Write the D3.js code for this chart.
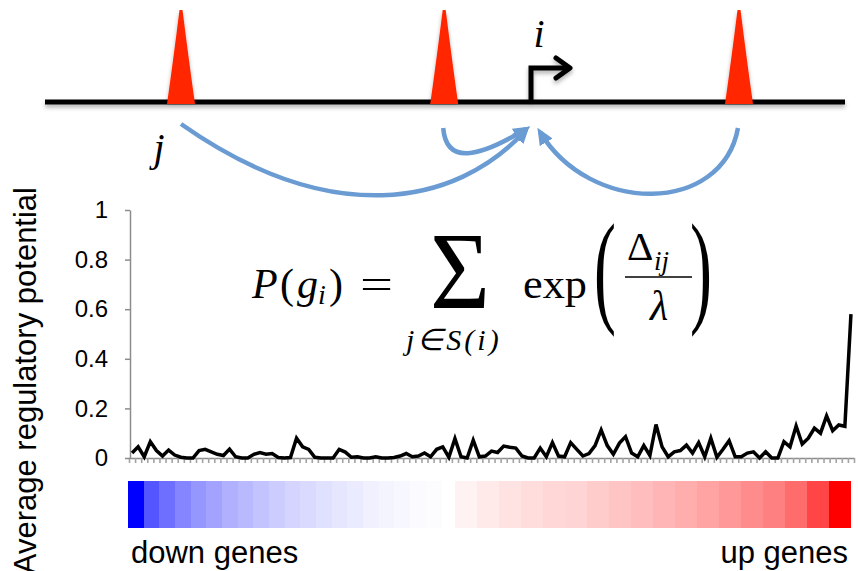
<!DOCTYPE html>
<html>
<head>
<meta charset="utf-8">
<script src="https://cdn.jsdelivr.net/npm/d3@7"></script>
<style>
  html, body { margin: 0; padding: 0; background: #fff; }
  svg { display: block; }
</style>
</head>
<body>
<svg id="fig" width="858" height="571"></svg>
<script>
// Average regulatory potential for each expression-ranked gene bin (down → up)
const potential = [
  0.02, 0.045, 0.005, 0.066, 0.03, 0.008, 0.032, 0.012, 0.003, 0,
  0, 0.03, 0.035, 0.025, 0.015, 0.01, 0.036, 0.005, 0, 0,
  0.015, 0.022, 0.015, 0.018, 0.002, 0, 0.002, 0.08, 0.045, 0.035,
  0.003, 0, 0, 0, 0.035, 0.024, 0.003, 0.005, 0, 0,
  0.005, 0, 0, 0.002, 0.008, 0.018, 0.005, 0.008, 0.02, 0.005,
  0.035, 0.045, 0.003, 0.078, 0.005, 0, 0.072, 0.005, 0.008, 0.028,
  0.022, 0.048, 0.043, 0.04, 0.008, 0, 0, 0.04, 0.005, 0.062,
  0.008, 0.005, 0.062, 0.035, 0.008, 0.018, 0.05, 0.113, 0.05, 0.015,
  0.06, 0.086, 0.02, 0.005, 0.05, 0.01, 0.135, 0.045, 0.005, 0.025,
  0.03, 0.052, 0.02, 0.062, 0.005, 0.08, 0.003, 0.035, 0.07, 0.005,
  0.005, 0.02, 0.025, 0, 0.025, 0, 0, 0.066, 0.045, 0.129,
  0.056, 0.08, 0.12, 0.1, 0.17, 0.11, 0.133, 0.128, 0.58
];
const yTicks = [0, 0.2, 0.4, 0.6, 0.8, 1];
const yTickLabels = ["0", "0.2", "0.4", "0.6", "0.8", "1"];
const axisTitle = "Average regulatory potential";

// Expression colour strip: intensity of change per bin
const downLevels = [1, 0.667, 0.565, 0.48, 0.41, 0.36, 0.31, 0.275, 0.235, 0.2,
                    0.17, 0.145, 0.12, 0.1, 0.08, 0.06, 0.045, 0.03, 0.02, 0.01];
const neutralLevels = [0];
const upLevels = [0.05, 0.085, 0.11, 0.135, 0.155, 0.17, 0.2, 0.23, 0.26, 0.29,
                  0.32, 0.36, 0.4, 0.45, 0.5, 0.575, 0.73, 1];
const stripLabels = ["down genes", "up genes"];

// Schematic locus (kb): binding peaks and the gene's TSS
const locusKb = [0, 100];
const peakKb = [17, 49.9, 86.75];
const tssKb = 60.75;

const sans = "'Liberation Sans', Arial, Helvetica, sans-serif";
const serif = "'Liberation Serif', 'Times New Roman', serif";
const blue = "#6a9bd2";

const svg = d3.select("#fig");
const defs = svg.append("defs");

const shadow = defs.append("filter").attr("id", "soft-shadow")
  .attr("filterUnits", "userSpaceOnUse")
  .attr("x", 0).attr("y", 0).attr("width", 858).attr("height", 130);
shadow.append("feDropShadow").attr("dx", 0).attr("dy", 3).attr("stdDeviation", 2)
  .attr("flood-color", "#000").attr("flood-opacity", 0.3);

defs.append("marker").attr("id", "blue-head")
  .attr("viewBox", "0 -8 18 16").attr("markerUnits", "userSpaceOnUse")
  .attr("markerWidth", 18).attr("markerHeight", 16)
  .attr("refX", 12).attr("refY", 0).attr("orient", "auto")
  .append("path").attr("d", "M0,-7.5L17,0L0,7.5Z").attr("fill", blue);

// ---------- locus schematic ----------
const gx = d3.scaleLinear().domain(locusKb).range([45, 845]);
const locus = svg.append("g");
const lineY = 102;

const shadowed = locus.append("g").attr("filter", "url(#soft-shadow)");
shadowed.append("line")
  .attr("x1", gx(locusKb[0])).attr("x2", gx(locusKb[1]))
  .attr("y1", lineY).attr("y2", lineY)
  .attr("stroke", "#000").attr("stroke-width", 5);

shadowed.selectAll("path.peak").data(peakKb).join("path")
  .attr("class", "peak")
  .attr("d", d => {
    const c = gx(d);
    return `M${c - 14},${lineY + 2} Q${c - 8},${lineY - 40} ${c - 1.5},10 L${c + 1.5},10 Q${c + 8},${lineY - 40} ${c + 14},${lineY + 2} Z`;
  })
  .attr("fill", "#ff2500");

const tx = gx(tssKb);
shadowed.append("path")
  .attr("d", `M${tx},${lineY} V68 H${tx + 38}`)
  .attr("fill", "none").attr("stroke", "#000").attr("stroke-width", 5);
shadowed.append("path")
  .attr("d", `M${tx + 25},58 L${tx + 39},68 L${tx + 25},78`)
  .attr("fill", "none").attr("stroke", "#000").attr("stroke-width", 5)
  .attr("stroke-linejoin", "round").attr("stroke-linecap", "round");

locus.append("text").attr("x", tx + 8).attr("y", 47)
  .attr("text-anchor", "middle")
  .style("font-family", serif).style("font-style", "italic").style("font-size", "40px")
  .text("i");
locus.append("text").attr("x", gx(peakKb[0]) - 22).attr("y", 161)
  .attr("text-anchor", "middle")
  .style("font-family", serif).style("font-style", "italic").style("font-size", "40px")
  .text("j");

// regulatory contributions from each peak towards the TSS
const p0 = gx(peakKb[0]), p1 = gx(peakKb[1]), p2 = gx(peakKb[2]);
const links = [
  `M${p0},124 C${p0 + 148},228 ${tx - 76},208 ${tx - 5},130`,
  `M${p1 - 1},128 C${p1 + 2},165 ${p1 + 34},158 ${tx - 5},129`,
  `M${p2 - 1},128 C${p2 - 17},215 ${tx + 59},215 ${tx + 9},132`
];
locus.selectAll("path.link").data(links).join("path")
  .attr("class", "link")
  .attr("d", d => d)
  .attr("fill", "none").attr("stroke", blue).attr("stroke-width", 4.5)
  .attr("marker-end", "url(#blue-head)");

// ---------- regulatory potential profile ----------
const x = d3.scaleLinear().domain([-0.5, potential.length - 0.5]).range([129, 854]);
const y = d3.scaleLinear().domain([0, 1]).range([458, 210]);

const xAxis = svg.append("g").attr("transform", `translate(0,${y(0)})`)
  .call(d3.axisBottom(x)
    .tickValues(d3.range(potential.length + 1).map(i => i - 0.5))
    .tickSize(5).tickSizeOuter(0).tickFormat(""));
xAxis.select(".domain").attr("stroke", "#8c8c8c").attr("stroke-width", 1.5);
xAxis.selectAll(".tick line").attr("stroke", "#a3a3a3").attr("stroke-width", 1.6);

const yAxis = svg.append("g").attr("transform", "translate(130,0)")
  .call(d3.axisLeft(y).tickValues(yTicks)
    .tickFormat((d, i) => yTickLabels[i])
    .tickSize(5).tickSizeOuter(0).tickPadding(17));
yAxis.select(".domain").attr("stroke", "#8c8c8c").attr("stroke-width", 1.5);
yAxis.selectAll(".tick line").attr("stroke", "#8c8c8c").attr("stroke-width", 1.5);
yAxis.selectAll(".tick text")
  .style("font-family", sans).style("font-size", "24px").attr("fill", "#000");

svg.append("text")
  .attr("transform", "translate(36,187) rotate(-90)")
  .attr("text-anchor", "end")
  .style("font-family", sans).style("font-size", "31px").attr("fill", "#000")
  .text(axisTitle);

svg.append("path").datum(potential)
  .attr("d", d3.line().x((d, i) => x(i)).y(d => y(d)))
  .attr("fill", "none").attr("stroke", "#000").attr("stroke-width", 3.5)
  .attr("stroke-linejoin", "miter");

// ---------- formula ----------
const f = svg.append("g").style("font-family", serif).attr("fill", "#000");
const tok = (txt, xx, yy, size, italic) =>
  f.append("text").attr("x", xx).attr("y", yy)
    .style("font-size", size + "px").style("font-style", italic ? "italic" : "normal")
    .text(txt);

tok("P", 252, 298, 42, true);
tok("(", 280, 298, 42, false);
tok("g", 297, 298, 42, true);
tok("i", 318, 304, 28, true);
tok(")", 329, 298, 42, false);
tok("=", 360, 298, 42, false).attr("textLength", 33).attr("lengthAdjust", "spacingAndGlyphs");
tok("Σ", 430, 308, 110, false).attr("textLength", 60).attr("lengthAdjust", "spacingAndGlyphs");

// summation range under the sigma
tok("j∈S(i)", 406, 350, 30, true).style("letter-spacing", "3px");

tok("exp", 523, 298, 42, false).attr("textLength", 64).attr("lengthAdjust", "spacingAndGlyphs");

f.append("text").attr("transform", "translate(594,310) scale(1,1.9)")
  .style("font-size", "66px").text("(");
f.append("text").attr("transform", "translate(690,310) scale(1,1.9)")
  .style("font-size", "66px").text(")");

tok("Δ", 627, 260, 41, false);
tok("ij", 654, 270, 27, true);
f.append("line").attr("x1", 625).attr("x2", 692).attr("y1", 277).attr("y2", 277)
  .attr("stroke", "#000").attr("stroke-width", 1.6);
tok("λ", 659, 320, 42, true).attr("text-anchor", "middle");

// ---------- expression strip ----------
const stripTop = 481, stripH = 47;
const downBand = d3.scaleBand().domain(d3.range(downLevels.length)).range([128, 441.5]);
const midBand = d3.scaleBand().domain(d3.range(neutralLevels.length)).range([441.5, 455]);
const upBand = d3.scaleBand().domain(d3.range(upLevels.length)).range([455, 850.5]);
const toBlue = d3.interpolateRgb("#ffffff", "#0000ff");
const toRed = d3.interpolateRgb("#ffffff", "#ff0000");

const strip = svg.append("g").attr("shape-rendering", "crispEdges");
const cells = (levels, band, interp, cls) =>
  strip.selectAll("rect." + cls).data(levels).join("rect")
    .attr("class", cls)
    .attr("x", (d, i) => band(i)).attr("width", band.bandwidth() + 0.5)
    .attr("y", stripTop).attr("height", stripH)
    .attr("fill", d => interp(d));
cells(downLevels, downBand, toBlue, "down");
cells(neutralLevels, midBand, toRed, "mid");
cells(upLevels, upBand, toRed, "up");

svg.append("text").attr("x", 131).attr("y", 563)
  .style("font-family", sans).style("font-size", "31px").text(stripLabels[0]);
svg.append("text").attr("x", 848).attr("y", 563).attr("text-anchor", "end")
  .style("font-family", sans).style("font-size", "31px").text(stripLabels[1]);
</script>
</body>
</html>
